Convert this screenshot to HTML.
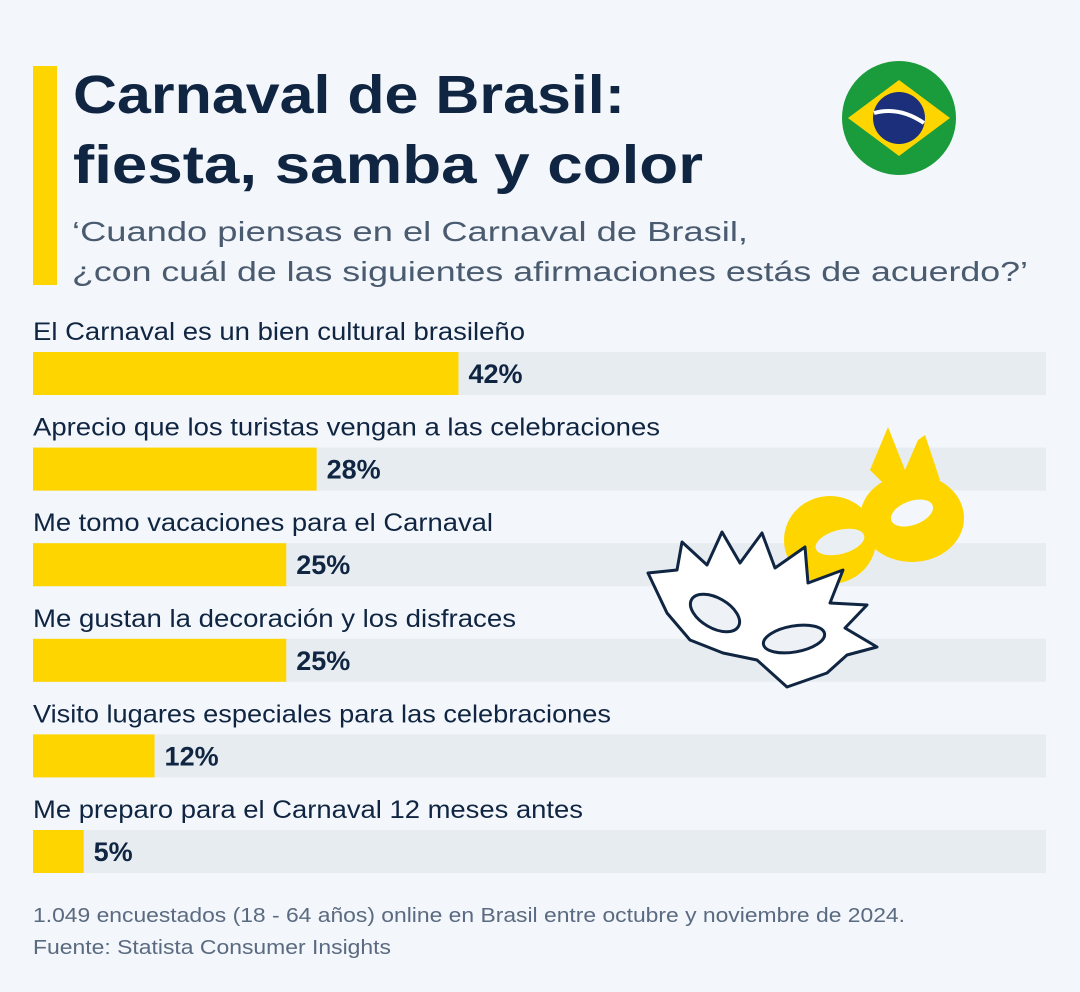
<!DOCTYPE html>
<html><head><meta charset="utf-8"><style>
html,body{margin:0;padding:0;background:#f3f6fa;}
svg{display:block;font-family:"Liberation Sans",sans-serif;}
</style></head><body>
<svg id="chart" width="1080" height="992" viewBox="0 0 1080 992">
<rect x="0" y="0" width="1080" height="992" fill="#f3f6fa"/>
<rect x="33" y="66" width="24" height="219" fill="#ffd500"/>
<text x="73" y="113" font-size="54" font-weight="bold" fill="#0f2541" textLength="552" lengthAdjust="spacingAndGlyphs">Carnaval de Brasil:</text>
<text x="73" y="183" font-size="54" font-weight="bold" fill="#0f2541" textLength="630" lengthAdjust="spacingAndGlyphs">fiesta, samba y color</text>
<text x="72" y="241" font-size="28" fill="#4a5b70" textLength="676" lengthAdjust="spacingAndGlyphs">‘Cuando piensas en el Carnaval de Brasil,</text>
<text x="72" y="281" font-size="28" fill="#4a5b70" textLength="956" lengthAdjust="spacingAndGlyphs">¿con cuál de las siguientes afirmaciones estás de acuerdo?’</text>
<g>
<circle cx="899" cy="118" r="57" fill="#1a9b3c"/>
<polygon points="899,80 950,118 899,156 848,118" fill="#ffd500"/>
<circle cx="899" cy="118" r="26" fill="#1b2f7a"/>
<path d="M874,113 Q899,106 924,123" stroke="#ffffff" stroke-width="4" fill="none"/>
</g>
<g id="bars"></g>
<g>
<polygon points="870,470 888,427 905,470 918,440 925,435 940,480 900,500" fill="#ffd500"/>
<ellipse cx="830" cy="540" rx="46" ry="44" fill="#ffd500"/>
<ellipse cx="912" cy="518" rx="52" ry="44" fill="#ffd500"/>
<ellipse cx="840" cy="542" rx="25" ry="12" transform="rotate(-15 840 542)" fill="#eaeff4"/>
<ellipse cx="912" cy="513" rx="22" ry="12" transform="rotate(-20 912 513)" fill="#f3f6fa"/>
</g>
<g>
<polygon points="648,573 677,570 682,542 707,565 722,532 740,563 762,533 775,568 805,547 808,583 843,570 830,603 867,605 845,628 877,647 847,655 827,673 787,687 757,660 723,653 690,640 667,613" fill="#ffffff" stroke="#0f2541" stroke-width="3" stroke-linejoin="round"/>
<ellipse cx="715" cy="613" rx="27" ry="15" transform="rotate(30 715 613)" fill="#eef1f5" stroke="#0f2541" stroke-width="3"/>
<ellipse cx="794" cy="639" rx="31" ry="13" transform="rotate(-10 794 639)" fill="#eef1f5" stroke="#0f2541" stroke-width="3"/>
</g>
<text x="33" y="922" font-size="20" fill="#5a6a80" textLength="872" lengthAdjust="spacingAndGlyphs">1.049 encuestados (18 - 64 años) online en Brasil entre octubre y noviembre de 2024.</text>
<text x="33" y="954" font-size="20" fill="#5a6a80" textLength="358" lengthAdjust="spacingAndGlyphs">Fuente: Statista Consumer Insights</text>
</svg>
<script>
const categories = ["El Carnaval es un bien cultural brasileño","Aprecio que los turistas vengan a las celebraciones","Me tomo vacaciones para el Carnaval","Me gustan la decoración y los disfraces","Visito lugares especiales para las celebraciones","Me preparo para el Carnaval 12 meses antes"];
const values = [42, 28, 25, 25, 12, 5];
const valueLabels = ["42%","28%","25%","25%","12%","5%"];
const labelWidths = [492, 627, 460, 483, 578, 550];
const NS = "http://www.w3.org/2000/svg";
const g = document.getElementById("bars");
const x0 = 33, trackW = 1013;
function xScale(v){ return v / 100 * trackW; }
function yBand(i){ return 352 + i * 95.6; }
categories.forEach((c, i) => {
  const y = yBand(i);
  const lab = document.createElementNS(NS, "text");
  
  
  lab.setAttribute("x", x0); lab.setAttribute("y", y - 12);
  lab.setAttribute("font-size", "25"); lab.setAttribute("fill", "#0f2541");
  lab.setAttribute("textLength", labelWidths[i]); lab.setAttribute("lengthAdjust", "spacingAndGlyphs");
  lab.textContent = c; g.appendChild(lab);
  const tr = document.createElementNS(NS, "rect");
  
  
  tr.setAttribute("x", x0); tr.setAttribute("y", y); tr.setAttribute("width", trackW); tr.setAttribute("height", 43);
  tr.setAttribute("fill", "#e7ecf1"); g.appendChild(tr);
  const b = document.createElementNS(NS, "rect");
  
  
  b.setAttribute("x", x0); b.setAttribute("y", y); b.setAttribute("width", xScale(values[i])); b.setAttribute("height", 43);
  b.setAttribute("fill", "#ffd500"); g.appendChild(b);
  const v = document.createElementNS(NS, "text");
  
  
  v.setAttribute("x", x0 + xScale(values[i]) + 10); v.setAttribute("y", y + 31);
  v.setAttribute("font-size", "27"); v.setAttribute("font-weight", "bold"); v.setAttribute("fill", "#0f2541");
  v.textContent = valueLabels[i]; g.appendChild(v);
});
</script>
</body></html>
